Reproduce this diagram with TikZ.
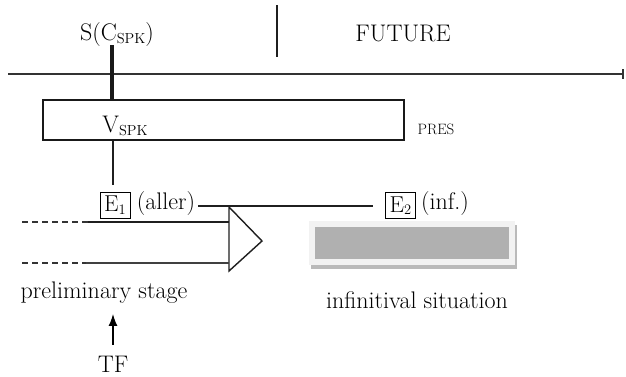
\documentclass[tikz,border=0pt]{standalone}
\usetikzlibrary{arrows.meta}
\newcommand{\lowsub}[1]{\raisebox{-2.5pt}{\fontsize{14.5}{15}\selectfont #1}}
\tikzset{
  txt/.style={inner sep=0pt, font=\fontsize{24}{27}\selectfont},
  smalltxt/.style={inner sep=0pt, font=\fontsize{15}{17}\selectfont},
  ebox/.style={draw, line width=0.9pt, inner sep=0pt, minimum width=30pt, minimum height=26pt, font=\fontsize{23}{26}\selectfont},
  ln/.style={line width=1.6pt, draw=black!88},
  dsh/.style={line width=1.4pt, draw=black!80, dash pattern=on 6pt off 4pt},
}
\begin{document}
\begin{tikzpicture}[x=1pt,y=-1pt]
\useasboundingbox (0,0) rectangle (626,376);
% timeline
\coordinate (tl0) at (8,74);
\coordinate (tl1) at (624,74);
\draw[line width=1.3pt, draw=black!80, -{Rectangle[length=2.5pt,width=10pt]}] (tl0) -- (tl1);
% top labels
\node[txt] (s) at (117,35) {S(C\lowsub{SPK})};
\node[txt] (fut) at (403,33) {FUTURE};
\coordinate (d0) at (277,5);
\coordinate (d1) at (277,57);
\draw[ln] (d0) -- (d1);
% speech time bar
\coordinate (b0) at (112,45);
\coordinate (b1) at (112,99);
\draw[line width=4.2pt, draw=black!90] (b0) -- (b1);
% V box
\node[draw, line width=1.9pt, draw=black!90, minimum width=361pt, minimum height=40pt, inner sep=0pt] (vbox) at (223.5,120) {};
\node[txt] (vspk) at (125,126) {V\lowsub{SPK}};
\node[smalltxt] (pres) at (436,129) {PRES};
% E1 / E2
\node[ebox] (e1) at (115,205) {E\lowsub{1}};
\node[txt] (aller) at (166,204) {(aller)};
\node[ebox] (e2) at (400.5,205.5) {E\lowsub{2}};
\node[txt] (inf) at (445,204) {(inf.)};
\draw[ln, shorten >=7pt] (vbox.south -| 113,0) -- (e1.north -| 113,0);
\draw[ln, shorten <=3pt, shorten >=12pt] (aller.east |- 0,206) -- (e2.west |- 0,206);
% preliminary stage
\coordinate (ta) at (229,207);
\coordinate (tb) at (262,241);
\coordinate (tc) at (229,271);
\draw[line width=1.4pt, draw=black!88, line join=miter] (ta) -- (tb) -- (tc) -- cycle;
\coordinate (u0) at (22,222);
\coordinate (u1) at (88,222);
\draw[dsh] (u0) -- (u1);
\draw[ln] (u1) -- (ta |- u1);
\coordinate (l0) at (22,263);
\coordinate (l1) at (86,263);
\draw[dsh] (l0) -- (l1);
\draw[line width=1.2pt, draw=black!75] (l1) -- (tc |- l1);
\node[txt] (prelim) at (104,293) {preliminary stage};
\node[txt] (tf) at (113,364) {TF};
\draw[line width=1.3pt, -{Latex[length=12pt,width=9pt]}, shorten <=11pt, shorten >=10pt] (tf.north) -- (tf.north |- prelim.south);
% infinitival situation
\fill[fill=black!27] (311,225) rectangle (517,269);
\fill[fill=black!5] (309,221) rectangle (515,265);
\fill[fill=black!31] (315,227) rectangle (509,259);
\node[txt] (infsit) at (417,300) {infinitival situation};
\end{tikzpicture}
\end{document}
